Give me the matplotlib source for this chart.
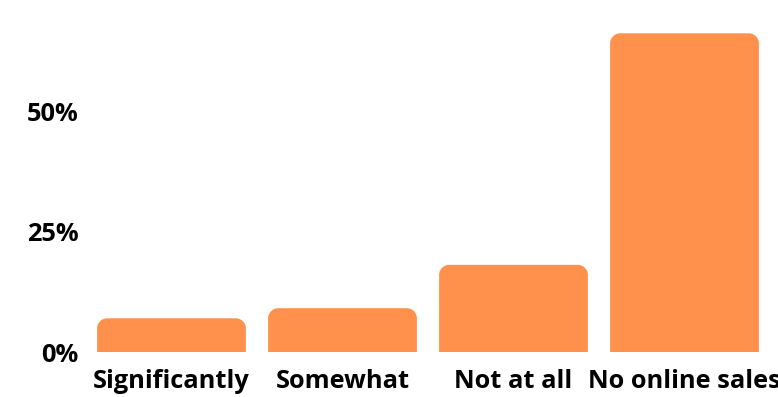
import matplotlib
matplotlib.use("Agg")
import matplotlib.pyplot as plt
from matplotlib.path import Path
from matplotlib.patches import PathPatch

categories = ["Significantly", "Somewhat", "Not at all", "No online sales"]
values = [7.0, 9.1, 18.1, 66.2]
yticks = [0, 25, 50]
ytick_labels = ["0%", "25%", "50%"]

color = "#FF914D"
W, H = 778, 397
fig = plt.figure(figsize=(W / 100, H / 100), dpi=100)
ax_left, ax_right = 86, 770
ax_bottom, ax_top = 352, 15
ax = fig.add_axes([ax_left / W, (H - ax_bottom) / H, (ax_right - ax_left) / W, (ax_bottom - ax_top) / H])

ymax = 70
ax.set_xlim(-0.5, 3.5)
ax.set_ylim(0, ymax)

bars = ax.bar(range(len(categories)), values, width=0.87, color=color)

# rounded top corners (radius in pixels)
r_px = 10
px_per_x = (ax_right - ax_left) / 4.0
px_per_y = (ax_bottom - ax_top) / ymax
rx = r_px / px_per_x
ry = r_px / px_per_y
k = 0.5523
for b in bars:
    x0 = b.get_x(); w = b.get_width(); h = b.get_height()
    x1 = x0 + w
    verts = [
        (x0, 0), (x0, h - ry),
        (x0, h - ry + k * ry), (x0 + rx - k * rx, h), (x0 + rx, h),
        (x1 - rx, h),
        (x1 - rx + k * rx, h), (x1, h - ry + k * ry), (x1, h - ry),
        (x1, 0), (x0, 0),
    ]
    codes = [Path.MOVETO, Path.LINETO,
             Path.CURVE4, Path.CURVE4, Path.CURVE4,
             Path.LINETO,
             Path.CURVE4, Path.CURVE4, Path.CURVE4,
             Path.LINETO, Path.CLOSEPOLY]
    patch = PathPatch(Path(verts, codes), facecolor=color, edgecolor="none")
    b.set_visible(False)
    ax.add_patch(patch)

font = dict(family="Open Sans", weight="bold", size=18.3)
ax.set_yticks(yticks)
ax.set_yticklabels(ytick_labels, **font)
ax.set_xticks(range(len(categories)))
ax.set_xticklabels(categories, **font)
ax.tick_params(axis="both", length=0)
ax.tick_params(axis="y", pad=5.5)
ax.tick_params(axis="x", pad=12)
for s in ax.spines.values():
    s.set_visible(False)

fig.savefig("out.png", dpi=100)
